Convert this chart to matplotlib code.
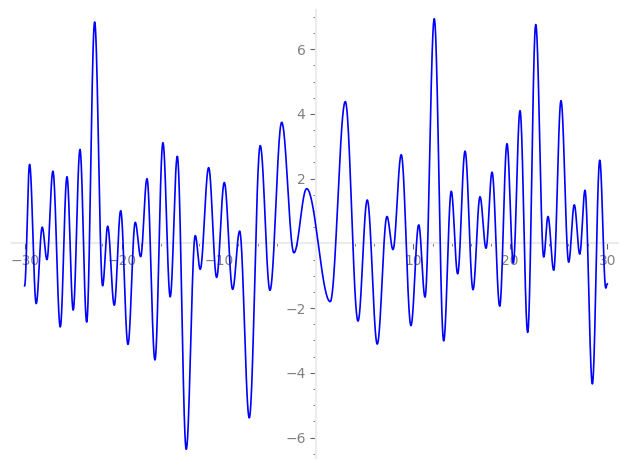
import numpy as np
import matplotlib
matplotlib.use("Agg")
import matplotlib.pyplot as plt
import matplotlib.ticker as plticker

# local extrema of the curve, plus the two end points
peak_x = [-30.0, -29.49, -28.81, -28.19, -27.70, -27.09, -26.33, -25.64, -25.00, -24.30,
          -23.61, -22.79, -21.97, -21.45, -20.77, -20.11, -19.36, -18.61, -18.05, -17.40,
          -16.58, -15.76, -15.01, -14.28, -13.36, -12.43, -11.92, -11.05, -10.23, -9.44,
          -8.58, -7.86, -6.87, -5.74, -4.74, -3.53, -2.27, -0.96, 1.47, 3.02,
          4.33, 5.28, 6.31, 7.31, 7.93, 8.78, 9.78, 10.58, 11.23, 12.18,
          13.15, 13.93, 14.59, 15.35, 16.17, 16.89, 17.51, 18.13, 18.92, 19.67,
          20.32, 21.01, 21.80, 22.63, 23.45, 23.89, 24.48, 25.23, 26.02, 26.60,
          27.16, 27.70, 28.46, 29.22, 29.84, 30.0]
peak_y = [-1.31, 2.44, -1.86, 0.50, -0.50, 2.23, -2.58, 2.06, -2.06, 2.90,
          -2.43, 6.84, -1.31, 0.53, -1.91, 1.01, -3.12, 0.65, -0.41, 2.00,
          -3.60, 3.11, -1.65, 2.69, -6.36, 0.24, -0.80, 2.34, -1.05, 1.88,
          -1.42, 0.38, -5.39, 3.02, -1.45, 3.74, -0.29, 1.69, -1.80, 4.38,
          -2.40, 1.34, -3.11, 0.83, -0.19, 2.74, -2.54, 0.57, -1.66, 6.94,
          -3.01, 1.61, -0.94, 2.85, -1.43, 1.44, -0.15, 2.20, -1.94, 3.08,
          -0.61, 4.10, -2.75, 6.76, -0.42, 0.83, -0.83, 4.41, -0.58, 1.19,
          -0.33, 1.64, -4.34, 2.57, -1.38, -1.25]


def smooth_curve(xs, ys, n=40):
    # half-cosine between neighbouring extrema so the line is flat at each peak
    cx, cy = [], []
    for i in range(len(xs) - 1):
        t = np.linspace(0, 1, n, endpoint=False)
        s = (1 - np.cos(np.pi * t)) / 2
        cx.extend(xs[i] + (xs[i + 1] - xs[i]) * t)
        cy.extend(ys[i] + (ys[i + 1] - ys[i]) * s)
    cx.append(xs[-1])
    cy.append(ys[-1])
    return cx, cy


fig = plt.figure(figsize=(6.27, 4.70), dpi=100)
ax = fig.add_axes([12 / 627, 12 / 470, 606 / 627, 448 / 470])

cx, cy = smooth_curve(peak_x, peak_y)
ax.plot(cx, cy, color="blue", lw=1.2, zorder=3)

ax.set_xlim(-31.3, 31.1)
ax.set_ylim(-6.63, 7.21)

ax.spines["top"].set_visible(False)
ax.spines["right"].set_visible(False)
ax.spines["left"].set_position(("data", 0))
ax.spines["bottom"].set_position(("data", 0))
for sp in ["left", "bottom"]:
    ax.spines[sp].set_color("#ebebeb")
    ax.spines[sp].set_linewidth(1.5)

ax.xaxis.set_major_locator(plticker.MultipleLocator(10))
ax.xaxis.set_minor_locator(plticker.MultipleLocator(2))
ax.yaxis.set_major_locator(plticker.MultipleLocator(2))
ax.yaxis.set_minor_locator(plticker.MultipleLocator(0.5))

fmt = plticker.FuncFormatter(lambda v, p: "" if abs(v) < 1e-9 else ("%d" % v).replace("-", "\u2212"))
ax.xaxis.set_major_formatter(fmt)
ax.yaxis.set_major_formatter(fmt)

ax.tick_params(which="major", length=4, width=0.8, color="#666666", labelcolor="#808080", labelsize=10)
ax.tick_params(which="minor", length=2, width=0.6, color="#666666")

fig.savefig("out.png", dpi=100)
